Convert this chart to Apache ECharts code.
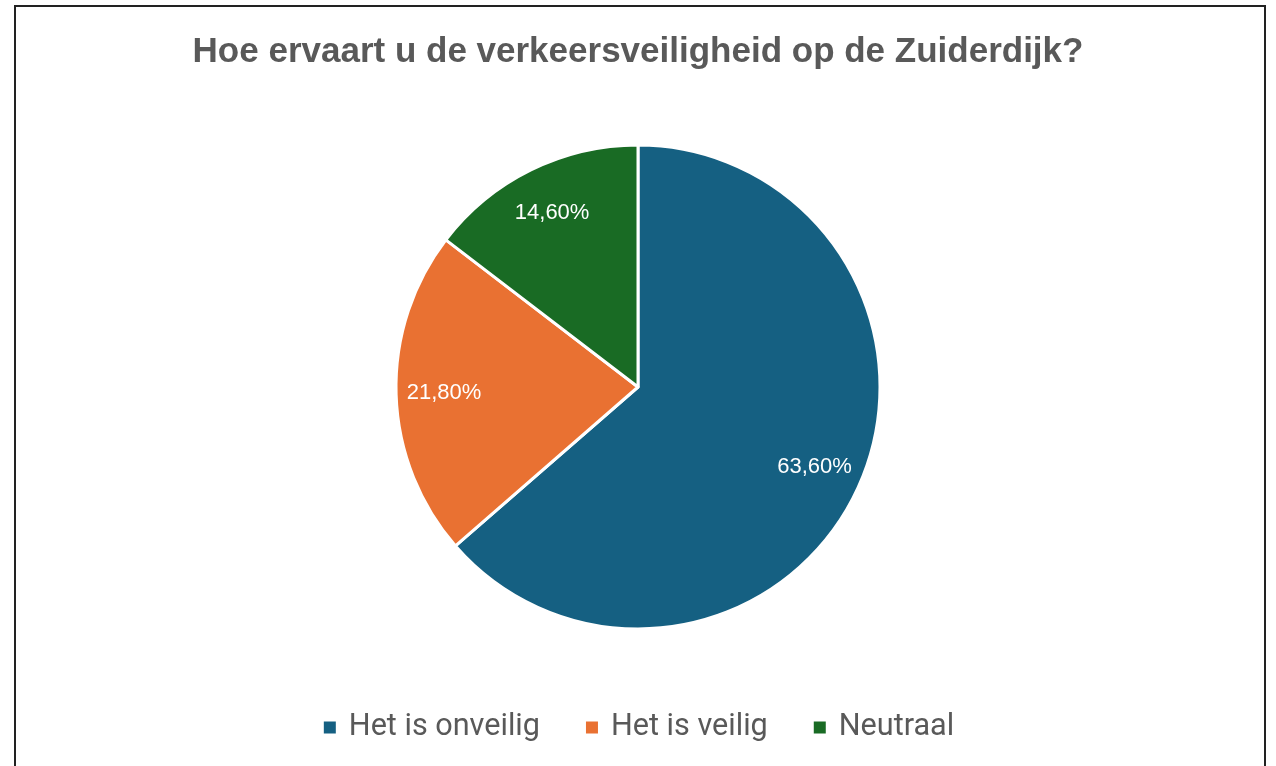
<!DOCTYPE html>
<html>
<head>
<meta charset="utf-8">
<script src="https://cdn.jsdelivr.net/npm/echarts@6/dist/echarts.min.js"></script>
<style>
  html, body { margin: 0; padding: 0; background: #fff; }
  #chart { width: 1276px; height: 766px; }
  #frame {
    position: absolute; left: 14px; top: 5px; width: 1248px; height: 800px;
    border: 2px solid #222; pointer-events: none;
  }
</style>
</head>
<body>
<div id="chart"></div>
<div id="frame"></div>
<script>
// data
const titleText = 'Hoe ervaart u de verkeersveiligheid op de Zuiderdijk?';
const categories = ['Het is onveilig', 'Het is veilig', 'Neutraal'];
const values = [63.6, 21.8, 14.6];
const colors = ['#156082', '#E97132', '#196B24'];

const chart = echarts.init(document.getElementById('chart'));

const pieData = categories.map((name, i) => ({
  name: name,
  value: values[i],
  itemStyle: { color: colors[i] }
}));

// labels sit at ~80% of the radius, so they get their own transparent ring
const labelData = categories.map((name, i) => ({ name: name, value: values[i] }));

chart.setOption({
  animation: false,
  title: {
    text: titleText,
    left: 'center',
    top: 30,
    textStyle: {
      fontFamily: 'Liberation Sans',
      fontWeight: 'bold',
      fontSize: 35,
      color: '#595959'
    }
  },
  legend: {
    bottom: 18,
    left: 'center',
    icon: 'rect',
    itemWidth: 14,
    itemHeight: 14,
    itemGap: 44,
    data: categories.map((name, i) => ({ name: name, itemStyle: { color: colors[i], opacity: 1 } })),
    textStyle: {
      fontFamily: 'Roboto',
      fontSize: 30.6,
      color: '#595959',
      padding: [0, 0, 0, 7]
    }
  },
  series: [
    {
      type: 'pie',
      center: [638, 387],
      radius: 242,
      startAngle: 90,
      clockwise: true,
      silent: true,
      label: { show: false },
      labelLine: { show: false },
      itemStyle: { borderColor: '#fff', borderWidth: 3 },
      data: pieData
    },
    {
      type: 'pie',
      center: [638, 387],
      radius: [140, 242],
      startAngle: 90,
      clockwise: true,
      silent: true,
      legendHoverLink: false,
      itemStyle: { color: 'rgba(0,0,0,0)' },
      label: {
        show: true,
        position: 'inside',
        color: '#fff',
        fontFamily: 'Liberation Sans',
        fontSize: 22,
        formatter: p => p.value.toFixed(2).replace('.', ',') + '%'
      },
      labelLine: { show: false },
      data: labelData
    }
  ]
});
</script>
</body>
</html>
